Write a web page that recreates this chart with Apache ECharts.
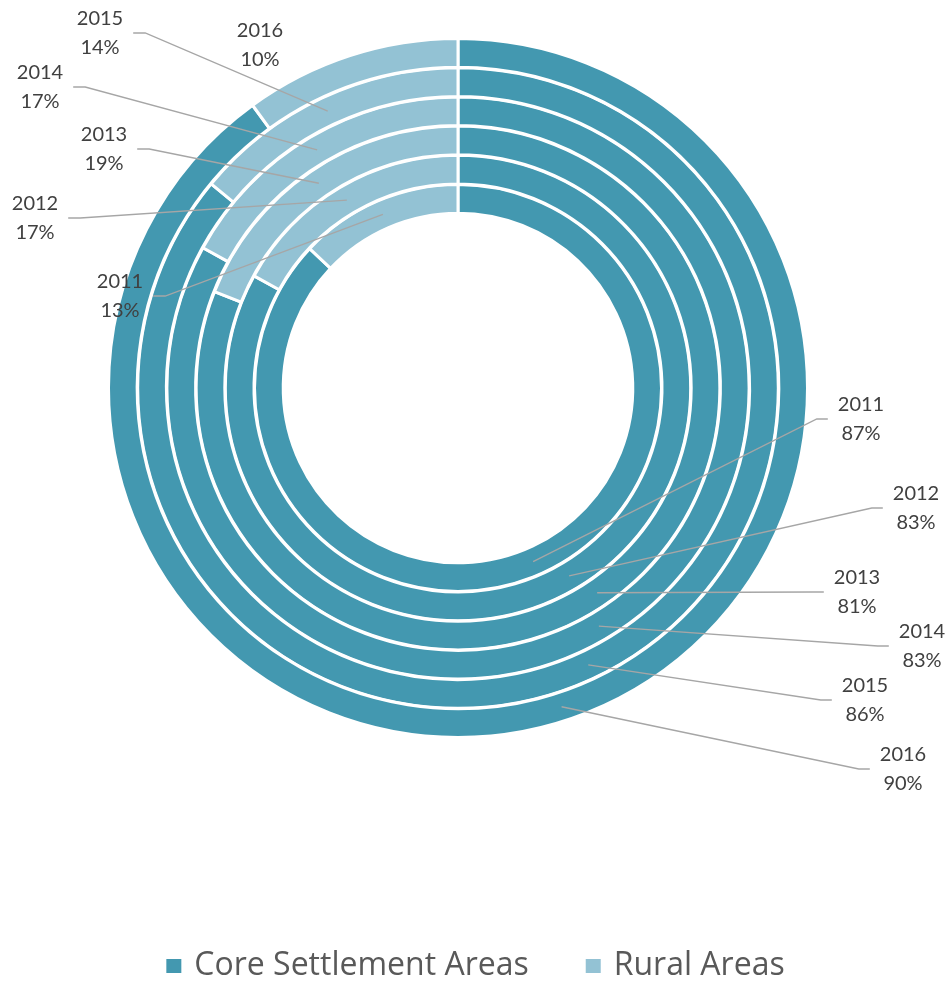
<!DOCTYPE html>
<html><head><meta charset="utf-8">
<script src="https://cdn.jsdelivr.net/npm/echarts@6/dist/echarts.min.js"></script>
<style>html,body{margin:0;padding:0;background:#fff}#chart{width:949px;height:981px}</style>
</head><body><div id="chart"></div>
<script>
// ---- data ----
const years = ['2011', '2012', '2013', '2014', '2015', '2016'];
const coreShare = [87, 83, 81, 83, 86, 90];
const ruralShare = [13, 17, 19, 17, 14, 10];
const categoryNames = ['Core Settlement Areas', 'Rural Areas'];

// ---- layout / style ----
const CX = 458, CY = 388;
const OUTER = 348, PERIOD = 29.2, THICK = 25.7, BORDER = 3;
const coreLabelPos = [[861, 419], [916, 508], [857, 592], [922, 646], [865, 700], [903, 769]];
const ruralLabelPos = [[120, 296], [35, 218], [104, 149], [40, 87], [100, 33], [260, 45]];
const ruralLineHidden = [false, false, false, false, false, true];
const COLORS = ['#4398B0', '#93C2D4'];

const chart = echarts.init(document.getElementById('chart'));

function ringRadii(k) {
  const outer = OUTER - (years.length - 1 - k) * PERIOD;
  const inner = outer - THICK;
  return { outer: outer, inner: inner, mid: (outer + inner) / 2 };
}

// visible rings (no labels)
const ringSeries = years.map(function (yr, k) {
  const r = ringRadii(k);
  return {
    name: yr,
    type: 'pie',
    z: 2,
    center: [CX, CY],
    radius: [r.inner - BORDER / 2, r.outer + BORDER / 2],
    startAngle: 90,
    clockwise: true,
    silent: true,
    animation: false,
    itemStyle: { borderColor: '#ffffff', borderWidth: BORDER },
    label: { show: false },
    labelLine: { show: false },
    data: [
      { name: categoryNames[0], value: coreShare[k], itemStyle: { color: COLORS[0] } },
      { name: categoryNames[1], value: ruralShare[k], itemStyle: { color: COLORS[1] } }
    ]
  };
});

// transparent overlay rings carrying the labels and leader lines (drawn on top)
const labelSeries = years.map(function (yr, k) {
  const r = ringRadii(k);
  return {
    name: yr,
    type: 'pie',
    z: 10,
    center: [CX, CY],
    radius: [r.inner, r.outer],
    startAngle: 90,
    clockwise: true,
    avoidLabelOverlap: false,
    silent: true,
    animation: false,
    legendHoverLink: false,
    itemStyle: { color: 'rgba(0,0,0,0)', borderWidth: 0 },
    label: {
      show: true,
      position: 'outside',
      formatter: '{a}\n{c}%',
      fontFamily: 'Lato',
      fontSize: 20,
      lineHeight: 29,
      color: '#404040'
    },
    labelLine: {
      show: true, showAbove: true, length: 10, length2: 10, smooth: false,
      lineStyle: { color: '#A6A6A6', width: 1.3 }
    },
    labelLayout: function (p) {
      const isCore = p.dataIndex === 0;
      const pos = isCore ? coreLabelPos[k] : ruralLabelPos[k];
      const total = coreShare[k] + ruralShare[k];
      const frac = isCore ? (coreShare[k] / 2) / total : (coreShare[k] + ruralShare[k] / 2) / total;
      const th = frac * 2 * Math.PI;
      const ax = CX + r.mid * Math.sin(th), ay = CY - r.mid * Math.cos(th);
      const w = p.labelRect.width;
      const ex = isCore ? pos[0] - w / 2 - 10 : pos[0] + w / 2 + 10;
      const bx = isCore ? ex - 11 : ex + 12;
      return {
        x: pos[0], y: pos[1], align: 'center', verticalAlign: 'middle',
        labelLinePoints: [[ax, ay], [bx, pos[1]], [ex, pos[1]]]
      };
    },
    data: [
      { name: 'label-core', value: coreShare[k] },
      { name: 'label-rural', value: ruralShare[k], labelLine: { show: !ruralLineHidden[k] } }
    ]
  };
});

chart.setOption({
  backgroundColor: '#ffffff',
  animation: false,
  legend: {
    data: categoryNames,
    top: 945,
    left: 'center',
    icon: 'rect',
    itemWidth: 17,
    itemHeight: 16,
    itemGap: 55,
    selectedMode: false,
    textStyle: { fontFamily: 'Open Sans', fontSize: 32, color: '#595959', padding: [0, 0, 0, 7] }
  },
  series: ringSeries.concat(labelSeries)
});
</script>
</body></html>
